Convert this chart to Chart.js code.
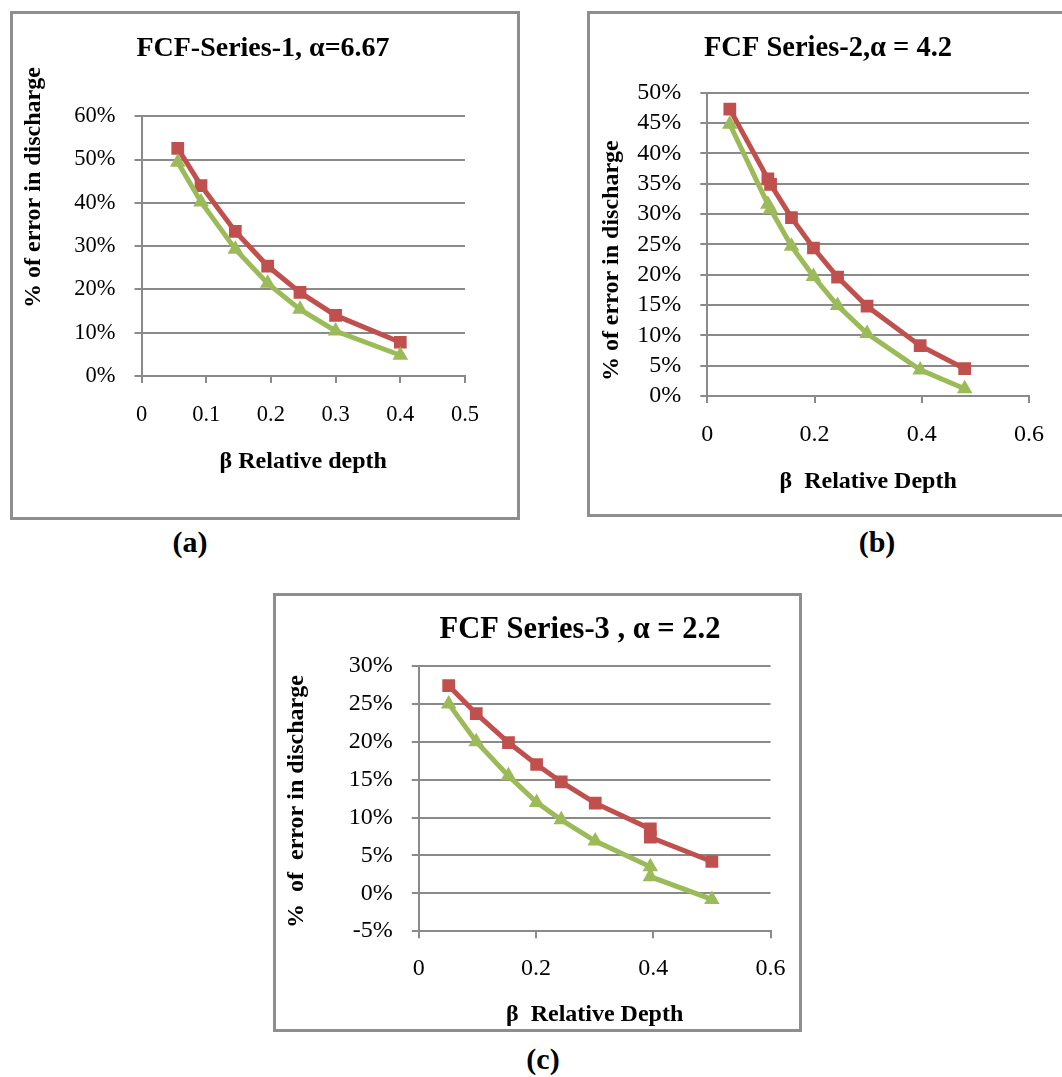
<!DOCTYPE html>
<html>
<head>
<meta charset="utf-8">
<script src="https://cdn.jsdelivr.net/npm/chart.js@4.4.0/dist/chart.umd.min.js"></script>
<style>
  body { margin: 0; background: #fff; width: 1062px; height: 1077px; position: relative; overflow: hidden; font-family: "Liberation Serif", "Times New Roman", serif; }
  .box { position: absolute; border: 3px solid #8e8e8e; box-sizing: border-box; }
  canvas { position: absolute; }
  .cap { position: absolute; font-weight: bold; font-size: 30px; transform: translate(-50%, -50%); white-space: nowrap; }
</style>
</head>
<body>

<div class="box" style="left:10px;top:11px;width:510px;height:509px"></div>
<div class="box" style="left:587px;top:11px;width:480px;height:506px"></div>
<div class="box" style="left:273px;top:593px;width:529px;height:439px"></div>

<canvas id="chartA" width="510" height="509" style="left:10px;top:11px"></canvas>
<canvas id="chartB" width="475" height="506" style="left:587px;top:11px"></canvas>
<canvas id="chartC" width="529" height="439" style="left:273px;top:593px"></canvas>

<div class="cap" style="left:190px;top:542px">(a)</div>
<div class="cap" style="left:877px;top:542px">(b)</div>
<div class="cap" style="left:543px;top:1059px">(c)</div>

<script>
// ─────────────────────────────
// Data: β relative depth vs % error in discharge
// ─────────────────────────────
const betaA  = [0.056, 0.092, 0.145, 0.195, 0.245, 0.30, 0.40];
const redA   = [52.6, 44.0, 33.4, 25.4, 19.3, 14.0, 7.8];
const greenA = [49.4, 40.2, 29.3, 21.4, 15.4, 10.4, 4.8];

const betaB  = [0.042, 0.113, 0.118, 0.157, 0.198, 0.243, 0.298, 0.397, 0.480];
const redB   = [47.3, 35.8, 34.9, 29.4, 24.4, 19.6, 14.8, 8.3, 4.5];
const greenB = [44.8, 31.6, 30.8, 24.7, 19.7, 14.9, 10.3, 4.3, 1.2];

const betaC  = [0.051, 0.098, 0.153, 0.201, 0.243, 0.301, 0.395, 0.395, 0.500];
const redC   = [27.4, 23.7, 19.9, 17.0, 14.7, 11.9, 8.5, 7.4, 4.2];
const greenC = [25.0, 20.0, 15.5, 12.0, 9.7, 6.9, 3.5, 2.2, -0.8];

const titles = ['FCF-Series-1, α=6.67', 'FCF Series-2,α = 4.2', 'FCF Series-3 , α = 2.2'];
const yTitles = ['% of error in discharge', '% of error in discharge', '%  of  error in discharge'];
const xTitles = ['β Relative depth', 'β  Relative Depth', 'β  Relative Depth'];

const RED = '#c0504d';
const GREEN = '#9bbb59';
const GRID = '#8a8a8a';
const FONT = '"Liberation Serif", "Times New Roman", serif';

// ─────────────────────────────
// Chart title + vertical axis title
// ─────────────────────────────
const pageText = {
  id: 'pageText',
  afterDraw(chart, args, opts) {
    const ctx = chart.ctx;
    ctx.save();
    ctx.fillStyle = '#000';
    ctx.textAlign = 'center';
    ctx.textBaseline = 'middle';
    ctx.font = 'bold ' + opts.tsize + 'px ' + FONT;
    ctx.fillText(opts.title, opts.tx, opts.ty);
    ctx.font = 'bold 24px ' + FONT;
    ctx.translate(opts.yx, opts.yy);
    ctx.rotate(-Math.PI / 2);
    ctx.fillText(opts.ytitle, 0, 0);
    ctx.restore();
  }
};

function pairs(xs, ys) {
  return xs.map((x, i) => ({ x: x, y: ys[i] }));
}

function makeChart(id, c) {
  new Chart(document.getElementById(id).getContext('2d'), {
    type: 'scatter',
    data: {
      datasets: [{
        data: pairs(c.beta, c.red),
        showLine: true,
        borderColor: RED,
        backgroundColor: RED,
        borderWidth: 5,
        pointStyle: 'rect',
        pointRadius: 9,
        pointBorderWidth: 0,
        order: 1
      }, {
        data: pairs(c.beta, c.green),
        showLine: true,
        borderColor: GREEN,
        backgroundColor: GREEN,
        borderWidth: 5,
        pointStyle: 'triangle',
        pointRadius: 9,
        pointBorderWidth: 0,
        order: 0
      }]
    },
    options: {
      responsive: false,
      animation: false,
      layout: { padding: { left: 0, top: c.padT, right: c.padR, bottom: 0 } },
      plugins: {
        legend: { display: false },
        tooltip: { enabled: false },
        pageText: { title: c.title, tsize: c.tsize, tx: c.tx, ty: c.ty, ytitle: c.ytitle, yx: c.yx, yy: c.yy }
      },
      scales: {
        x: {
          type: 'linear',
          min: 0,
          max: c.xMax,
          ticks: { stepSize: c.xStep, autoSkip: false, padding: c.xPad, color: '#000', font: { family: FONT, size: c.fsize } },
          grid: { drawOnChartArea: false, tickLength: 7, color: GRID, lineWidth: 2 },
          border: { color: GRID, width: 2 },
          title: { display: true, text: c.xtitle, color: '#000', font: { family: FONT, size: 24, weight: 'bold' }, padding: { top: 0, bottom: c.xtPad } },
          afterFit: s => { s.height = c.hx; }
        },
        y: {
          min: c.yMin,
          max: c.yMax,
          ticks: { stepSize: c.yStep, autoSkip: false, padding: 19, color: '#000', font: { family: FONT, size: c.fsize }, callback: v => v + '%' },
          grid: { tickLength: 7, color: GRID, lineWidth: 2 },
          border: { color: GRID, width: 2 },
          afterFit: s => { s.width = c.wy; }
        }
      }
    },
    plugins: [pageText]
  });
}

makeChart('chartA', {
  beta: betaA, red: redA, green: greenA,
  xMax: 0.5, xStep: 0.1, yMin: 0, yMax: 60, yStep: 10,
  padT: 105.3, padR: 55, wy: 131.5, hx: 144, xtPad: 43.6,
  fsize: 22.5, xPad: 18.5,
  title: titles[0], tsize: 28, tx: 253, ty: 37.3,
  ytitle: yTitles[0], yx: 24, yy: 176.5,
  xtitle: xTitles[0]
});

makeChart('chartB', {
  beta: betaB, red: redB, green: greenB,
  xMax: 0.6, xStep: 0.2, yMin: 0, yMax: 50, yStep: 5,
  padT: 81.7, padR: 33, wy: 120.3, hx: 121, xtPad: 20.6,
  fsize: 24, xPad: 17.5,
  title: titles[1], tsize: 28.5, tx: 241, ty: 37.2,
  ytitle: yTitles[1], yx: 25, yy: 249.7,
  xtitle: xTitles[1]
});

makeChart('chartC', {
  beta: betaC, red: redC, green: greenC,
  xMax: 0.6, xStep: 0.2, yMin: -5, yMax: 30, yStep: 5,
  padT: 73, padR: 26, wy: 145.8, hx: 100.8, xtPad: 2.6,
  fsize: 24, xPad: 16.5,
  title: titles[2], tsize: 30.5, tx: 307, ty: 37,
  ytitle: yTitles[2], yx: 23.5, yy: 208.5,
  xtitle: xTitles[2]
});
</script>
</body>
</html>
